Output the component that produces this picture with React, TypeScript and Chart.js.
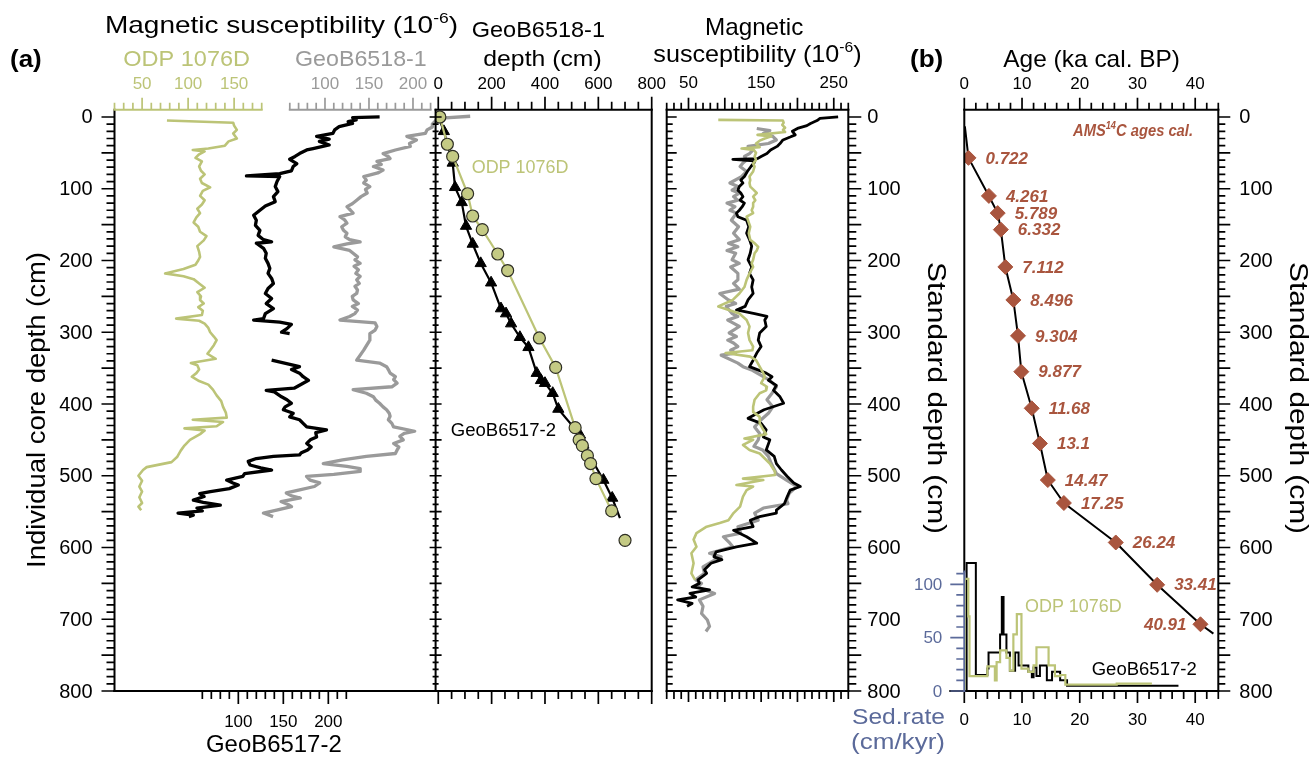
import { useEffect, useRef } from "react";
import { Chart, registerables } from "chart.js";

Chart.register(...registerables);

const W = 1311;
const H = 758;
const FONT = '"Liberation Sans", Arial, Helvetica, sans-serif';
const OLIVE = "#bcc477";
const OLIVE_FILL = "#c4ca84";
const GRAY = "#9a9a9a";
const BROWN = "#a9553e";
const SED = "#5b6a9a";
const BLACK = "#000000";

// ---------- tick labels ----------
const depthTickLabels = [0, 100, 200, 300, 400, 500, 600, 700, 800];
const odpTickLabels = [50, 100, 150];
const geo18TickLabels = [100, 150, 200];
const geo17TickLabels = [100, 150, 200];
const corrTickLabels = [0, 200, 400, 600, 800];
const stdMsTickLabels = [50, 150, 250];
const ageTickLabels = [0, 10, 20, 30, 40];
const sedTickLabels = [0, 50, 100];

// ---------- panel (a) left: MS vs individual core depth ----------
const odpDepth = [5, 8, 12, 18, 23, 30, 34, 40, 44, 46, 48, 52, 57, 62, 69, 75, 80, 86, 92, 98, 103, 110, 116, 122, 128, 134, 140, 147, 153, 160, 166, 172, 180, 188, 195, 200, 206, 212, 218, 222, 226, 232, 238, 244, 250, 255, 260, 265, 270, 276, 281, 284, 288, 294, 300, 306, 311, 318, 325, 330, 337, 343, 346, 352, 357, 362, 368, 373, 380, 388, 396, 404, 412, 419, 422, 425, 431, 434, 437, 442, 450, 458, 465, 474, 481, 488, 492, 500, 507, 515, 522, 530, 538, 543, 548];
const odpMS = [77, 149, 150, 153, 149, 153, 144, 140, 122, 105, 118, 112, 108, 115, 112, 114, 118, 113, 115, 124, 116, 113, 118, 115, 110, 113, 109, 106, 111, 113, 120, 117, 110, 112, 113, 111, 108, 95, 75, 95, 106, 112, 118, 110, 114, 113, 117, 111, 116, 115, 87, 112, 118, 122, 124, 128, 131, 128, 124, 121, 130, 103, 110, 112, 109, 104, 112, 122, 127, 131, 136, 138, 141, 142, 105, 138, 131, 96, 118, 113, 102, 96, 92, 88, 82, 55, 51, 46, 50, 47, 50, 47, 50, 46, 49];

const geo17Depth = [0, 1, 4, 6.5, 9, 13.5, 18, 23, 27, 31, 34, 39, 44, 46, 51, 55, 59, 65, 69, 75, 79, 82, 83, 90, 97, 104, 111, 118, 124, 130, 137, 144, 151, 158, 165, 171, 174, 176, 183, 190, 197, 204, 211, 218, 225, 232, 239, 246, 253, 260, 267, 274, 281, 283, 286, 289, 295, 300, 302, null, 339, 348, 352, 357, 362, 367, 371, 378, 381, 383, 390, 394, 399, 404, 408, 413, 418, 422, 427, 432, 436, 440, 446, 450, 455, 460, 464, 468, 471, 473, 476, 480, 485, 489, 492, 497, 501, 506, 510, 513, 518, 522, 525, 529, 534, 537, 541, 545, 549, 552, 555, 557];
const geo17MS = [257, 227, 231, 222, 227, 212, 207, 205, 187, 201, 190, 201, 183, 176, 168, 163, 157, 165, 161, 159, 146, 109, 146, 143, 141, 144, 139, 141, 130, 124, 117, 120, 119, 124, 122, 128, 137, 120, 128, 131, 130, 133, 135, 133, 137, 139, 133, 130, 137, 131, 139, 130, 128, 117, 146, 159, 154, 148, 157, null, 137, 168, 159, 168, 172, 178, 172, 162, 131, 140, 148, 154, 159, 152, 150, 161, 157, 168, 172, 176, 198, 186, 187, 180, 176, 181, 177, 170, 168, 139, 120, 111, 113, 125, 137, 107, 105, 87, 94, 100, 90, 69, 57, 62, 50, 61, 80, 54, 60, 33, 50, 45];

const geo18Depth = [-1, 2, 6, 10, 14, 18, 23, 27, 32, 37, 41, 46, 51, 55, 58, 62, 66, 69, 74, 78, 83, 88, 92, 97, 101, 106, 111, 116, 121, 125, 130, 134, 139, 143, 148, 153, 158, 162, 167, 171, 174, 177, 181, 186, 190, 195, 199, 204, 208, 213, 218, 222, 227, 232, 236, 241, 246, 250, 255, 260, 264, 269, 274, 278, 283, 287, 292, 297, 302, 311, 325, 339, 343, 348, 352, 357, 362, 366, 371, 376, 380, 385, 390, 395, 399, 404, 408, 413, 417, 422, 427, 432, 438, 441, 445, 450, 455, 460, 464, 469, 473, 478, 483, 487, 490, 494, 498, 501, 506, 510, 515, 520, 524, 528, 531, 536, 540, 543, 548, 552, 557];
const geo18MS = [265, 228, 225, 222, 222, 216, 214, 193, 204, 196, 197, 180, 166, 172, 174, 159, 164, 155, 166, 160, 144, 147, 144, 151, 146, 148, 141, 136, 131, 125, 129, 132, 117, 122, 125, 119, 121, 125, 123, 128, 140, 125, 110, 128, 132, 137, 134, 140, 133, 138, 135, 140, 136, 139, 134, 137, 136, 131, 132, 138, 131, 137, 134, 128, 117, 157, 159, 157, 151, 151, 144, 136, 162, 170, 172, 174, 180, 178, 182, 176, 132, 147, 155, 158, 162, 166, 170, 173, 174, 172, 176, 178, 202, 190, 185, 189, 178, 184, 182, 180, 147, 120, 98, 125, 140, 140, 110, 79, 83, 94, 88, 70, 56, 62, 72, 50, 58, 62, 45, 30, 41];

// ---------- panel (a) middle: depth correlation ----------
const odpTieX = [6, 34, 54, 110, 129, 165, 223, 260, 379, 440, 513, 528, 540, 559, 571, 591, 650, 700];
const odpTieY = [0, 38, 55, 107, 138, 157, 191, 214, 308, 349, 433, 450, 458, 472, 483, 504, 549, 590];
const odpLineX = [6, 34, 54, 110, 129, 165, 223, 260, 379, 440, 513, 528, 540, 559, 571, 591, 650];
const odpLineY = [0, 38, 55, 107, 138, 157, 191, 214, 308, 349, 433, 450, 458, 472, 483, 504, 549];
const geo17TieX = [21, 54, 63, 88, 104, 129, 159, 198, 235, 254, 273, 306, 338, 369, 385, 400, 429, 450, 531, 544, 619, 652];
const geo17TieY = [20, 64, 98, 119, 152, 177, 204, 231, 267, 274, 288, 307, 321, 357, 367, 371, 385, 407, 443, 457, 506, 531];
const geo17LineX = [6, 21, 54, 63, 88, 104, 129, 159, 198, 235, 254, 273, 306, 338, 369, 385, 400, 429, 450, 531, 544, 619, 652, 681];
const geo17LineY = [5, 20, 64, 98, 119, 152, 177, 204, 231, 267, 274, 288, 307, 321, 357, 367, 371, 385, 407, 443, 457, 506, 531, 559];

// ---------- panel (a) right: MS vs standard depth ----------
const stdGeo17Depth = [0, 2, 5, 9, 12, 16, 20, 25, 28, 32, 37, 41, 46, 51, 55, 58, 59, 61, 63, 69, 76, 83, 88, 92, 97, 102, 106, 111, 116, 120, 125, 130, 134, 139, 144, 153, 162, 171, 180, 190, 199, 209, 218, 227, 237, 246, 255, 264, 269, 274, 278, 283, 292, 301, 311, 320, 329, 339, 348, 357, 362, 367, 374, 381, 390, 399, 408, 420, 427, 436, 446, 450, 464, 473, 483, 492, 501, 510, 515, 520, 529, 539, 548, 552, 557, 562, 571, 576, 585, 594, 599, 606, 613, 617, 622, 631, 636, 645, 650, 655, 659, 664, 669, 673, 678, 682];
const stdGeo17MS = [256, 231, 227, 218, 213, 200, 193, 197, 190, 180, 176, 172, 163, 158, 150, 145, 111, 140, 141, 136, 131, 127, 122, 125, 120, 118, 122, 125, 121, 127, 124, 120, 116, 118, 130, 133, 130, 134, 137, 135, 132, 137, 134, 139, 137, 139, 132, 128, 116, 141, 158, 155, 157, 148, 146, 150, 144, 139, 134, 157, 165, 160, 171, 167, 176, 181, 154, 132, 150, 157, 153, 162, 157, 168, 171, 178, 186, 195, 204, 190, 186, 182, 171, 171, 148, 135, 139, 112, 130, 144, 116, 88, 85, 96, 81, 72, 75, 63, 65, 55, 79, 52, 60, 35, 55, 48];
const stdGeo18Depth = [16, 19, 23, 27, 32, 37, 41, 46, 51, 55, 60, 64, 69, 76, 83, 92, 97, 102, 106, 111, 116, 120, 125, 130, 134, 144, 153, 162, 171, 176, 181, 186, 190, 199, 204, 209, 218, 227, 232, 240, 246, 255, 260, 264, 274, 278, 283, 288, 292, 301, 306, 311, 315, 320, 325, 329, 332, 343, 348, 353, 362, 367, 376, 385, 394, 404, 413, 422, 432, 441, 450, 459, 464, 473, 483, 497, 506, 515, 524, 534, 539, 545, 552, 562, 571, 580, 585, 594, 599, 608, 613, 617, 627, 636, 645, 650, 655, 664, 673, 682, 692, 701, 710, 717];
const stdGeo18MS = [144, 162, 153, 166, 171, 160, 132, 139, 134, 127, 130, 125, 121, 130, 123, 107, 118, 110, 120, 112, 118, 103, 114, 107, 116, 109, 119, 112, 120, 105, 118, 103, 115, 110, 120, 108, 118, 118, 112, 120, 93, 105, 115, 102, 110, 118, 104, 113, 120, 106, 116, 104, 112, 118, 108, 115, 95, 118, 125, 138, 153, 162, 171, 165, 158, 166, 160, 150, 141, 148, 146, 140, 152, 160, 164, 171, 185, 199, 189, 185, 187, 153, 141, 146, 118, 122, 98, 107, 111, 79, 95, 87, 70, 72, 60, 68, 62, 86, 65, 70, 68, 76, 79, 74];
const stdOdpDepth = [4, 5, 8, 11, 15, 18, 21, 25, 27, 30, 33, 37, 42, 44, 46, 50, 55, 60, 65, 69, 76, 83, 88, 92, 97, 101, 106, 111, 116, 120, 125, 130, 134, 139, 144, 153, 162, 171, 176, 181, 186, 190, 199, 204, 209, 218, 227, 237, 246, 255, 264, 274, 283, 292, 301, 311, 320, 325, 329, 334, 339, 348, 357, 362, 371, 376, 381, 385, 394, 404, 411, 418, 427, 436, 442, 448, 450, 457, 464, 469, 483, 494, 499, 504, 506, 513, 515, 520, 529, 543, 552, 562, 566, 571, 580, 589, 599, 608, 622, 636, 645];
const stdOdpMS = [91, 180, 181, 179, 183, 180, 183, 145, 164, 155, 148, 143, 148, 123, 140, 143, 141, 143, 139, 141, 139, 134, 135, 134, 135, 139, 144, 139, 142, 139, 139, 137, 139, 130, 132, 135, 133, 135, 141, 146, 144, 141, 139, 137, 139, 134, 130, 127, 120, 111, 91, 120, 130, 134, 132, 134, 139, 138, 101, 135, 143, 148, 153, 155, 150, 158, 157, 148, 141, 139, 139, 148, 148, 153, 157, 127, 139, 125, 134, 148, 162, 169, 169, 125, 153, 116, 139, 130, 125, 121, 112, 105, 93, 75, 61, 57, 61, 54, 57, 54, 59];

// ---------- panel (b): age model and sedimentation rates ----------
const amsAge = [0.722, 4.261, 5.789, 6.332, 7.112, 8.496, 9.304, 9.877, 11.68, 13.1, 14.47, 17.25, 26.24, 33.41, 40.91];
const amsDepth = [57, 110, 134, 157, 209, 255, 305, 355, 406, 455, 506, 538, 593, 652, 707];
const ageModelAge = [0.1, 0.722, 4.261, 5.789, 6.332, 7.112, 8.496, 9.304, 9.877, 11.68, 13.1, 14.47, 17.25, 26.24, 33.41, 40.91, 43.15];
const ageModelDepth = [13, 57, 110, 134, 157, 209, 255, 305, 355, 406, 455, 506, 538, 593, 652, 707, 720];
const sedGeo17Age = [0.35, 0.4, 2.0, 4.0, 4.2, 6.2, 6.5, 6.8, 7.3, 7.9, 8.8, 9.4, 11.1, 11.7, 12.0, 12.5, 13.1, 14.3, 15.2, 16.6, 17.8, 37.1];
const sedGeo17Rate = [0, 120, 15, 21, 36, 53, 88, 53, 36, 19, 36, 24, 18, 13, 22, 14, 24, 10, 18, 10, 5, 5];
const sedOdpAge = [0.0, 0.1, 0.7, 0.9, 4.0, 5.3, 5.6, 6.2, 7.3, 7.9, 8.5, 9.1, 9.9, 11.1, 12.0, 12.5, 14.6, 15.7, 16.6, 17.5, 26.4, 32.5];
const sedOdpRate = [0, 105, 70, 14, 23, 10, 27, 38, 31, 19, 53, 72, 21, 18, 24, 41, 24, 14, 15, 6, 7, 7];

// ---------- helpers ----------
const pts = (xs: (number | null)[], ys: (number | null)[]) =>
  xs.map((x, i) => ({ x: x == null ? NaN : x, y: ys[i] == null ? NaN : (ys[i] as number) }));

type Seg = { t: string; sup?: boolean };
type TextOpts = {
  size: number; color?: string; bold?: boolean; italic?: boolean;
  align?: "left" | "center" | "right"; baseline?: CanvasTextBaseline; width?: number; rotate?: number;
};

function drawText(ctx: CanvasRenderingContext2D, content: string | Seg[], x: number, y: number, o: TextOpts) {
  const segs: Seg[] = typeof content === "string" ? [{ t: content }] : content;
  ctx.save();
  const fontFor = (sup?: boolean) =>
    `${o.italic ? "italic " : ""}${o.bold ? "bold " : ""}${sup ? Math.round(o.size * 0.62) : o.size}px ${FONT}`;
  const widths = segs.map((s) => { ctx.font = fontFor(s.sup); return ctx.measureText(s.t).width; });
  const total = widths.reduce((a, b) => a + b, 0);
  const sx = o.width ? o.width / total : 1;
  ctx.translate(x, y);
  if (o.rotate) ctx.rotate(o.rotate);
  ctx.scale(sx, 1);
  let cx = o.align === "center" ? -total / 2 : o.align === "right" ? -total : 0;
  ctx.fillStyle = o.color || BLACK;
  ctx.textAlign = "left";
  ctx.textBaseline = o.baseline || "alphabetic";
  segs.forEach((s, i) => {
    ctx.font = fontFor(s.sup);
    ctx.fillText(s.t, cx, s.sup ? -o.size * 0.42 : 0);
    cx += widths[i];
  });
  ctx.restore();
}

type AxisSpec = {
  id: string; vert: boolean; at: number; from: number; to: number; step: number; major: number;
  minLen: number; majLen: number; dir: number; color: string; linePx?: [number, number];
  labels?: number[]; labelAt?: number; labelSize?: number; labelAlign?: "left" | "center" | "right"; labelColor?: string;
  lineWidth?: number; tickWidth?: number;
};

function drawAxis(chart: any, a: AxisSpec) {
  const ctx: CanvasRenderingContext2D = chart.ctx;
  const s = chart.scales[a.id];
  const px = (v: number) => s.getPixelForValue(v);
  ctx.save();
  ctx.strokeStyle = a.color;
  const l0 = a.linePx ? a.linePx[0] : px(a.from);
  const l1 = a.linePx ? a.linePx[1] : px(a.to);
  ctx.lineWidth = a.lineWidth ?? 2;
  ctx.lineCap = "square";
  ctx.beginPath();
  if (a.vert) { ctx.moveTo(a.at, l0); ctx.lineTo(a.at, l1); } else { ctx.moveTo(l0, a.at); ctx.lineTo(l1, a.at); }
  ctx.stroke();
  ctx.lineWidth = a.tickWidth ?? 1.7;
  ctx.lineCap = "butt";
  ctx.beginPath();
  const n = Math.round((a.to - a.from) / a.step);
  for (let i = 0; i <= n; i++) {
    const v = a.from + i * a.step;
    const r = v / a.major;
    const len = Math.abs(r - Math.round(r)) < 1e-6 ? a.majLen : a.minLen;
    const p = px(v);
    const q0 = a.dir === 0 ? a.at - len / 2 : a.at;
    const q1 = a.dir === 0 ? a.at + len / 2 : a.at + a.dir * len;
    if (a.vert) { ctx.moveTo(q0, p); ctx.lineTo(q1, p); } else { ctx.moveTo(p, q0); ctx.lineTo(p, q1); }
  }
  ctx.stroke();
  if (a.labels) {
    for (const v of a.labels) {
      const p = px(v);
      if (a.vert) {
        drawText(ctx, String(v), a.labelAt as number, p + 1, { size: a.labelSize || 18, color: a.labelColor || a.color, align: a.labelAlign || "right", baseline: "middle" });
      } else {
        drawText(ctx, String(v), p, a.labelAt as number, { size: a.labelSize || 17, color: a.labelColor || a.color, align: "center" });
      }
    }
  }
  ctx.restore();
}

function hline(ctx: CanvasRenderingContext2D, x0: number, x1: number, y: number, w = 2, c = BLACK) {
  ctx.save(); ctx.strokeStyle = c; ctx.lineWidth = w; ctx.lineCap = "square";
  ctx.beginPath(); ctx.moveTo(x0, y); ctx.lineTo(x1, y); ctx.stroke(); ctx.restore();
}
function vline(ctx: CanvasRenderingContext2D, x: number, y0: number, y1: number, w = 2, c = BLACK) {
  ctx.save(); ctx.strokeStyle = c; ctx.lineWidth = w; ctx.lineCap = "square";
  ctx.beginPath(); ctx.moveTo(x, y0); ctx.lineTo(x, y1); ctx.stroke(); ctx.restore();
}

const MS_SUP: Seg[] = [{ t: "Magnetic susceptibility (10" }, { t: "-6", sup: true }, { t: ")" }];

function baseConfig(padding: any, scales: any, datasets: any[], decor: (c: any) => void) {
  const sc: any = {};
  Object.keys(scales).forEach((k) => { sc[k] = { type: "linear", display: false, ...scales[k] }; });
  return {
    type: "scatter" as const,
    data: { datasets },
    options: {
      responsive: false,
      animation: false,
      devicePixelRatio: 1,
      events: [],
      layout: { padding, autoPadding: false },
      plugins: { legend: { display: false }, tooltip: { enabled: false } },
      scales: sc,
    },
    plugins: [{ id: "decor", afterDraw: (c: any) => decor(c) }],
  };
}

const lineDs = (data: any, color: string, width: number, extra: any = {}) => ({
  data, showLine: true, borderColor: color, backgroundColor: color, borderWidth: width,
  pointRadius: 0, borderJoinStyle: "round", tension: 0, ...extra,
});

const Y_DEPTH = { min: -10, max: 800, reverse: true };
const PAD_TOP = 109.8;
const PAD_BOTTOM = 67;

// ---------- panel configs ----------
function panel1() {
  return baseConfig(
    { left: 114.5, right: W - 435.6, top: PAD_TOP, bottom: PAD_BOTTOM },
    { y: Y_DEPTH, xo: { min: 20, max: 369.0 }, xg: { min: -139.2, max: 225.7 }, xb: { min: -37.6, max: 319.2 } },
    [
      lineDs(pts(odpMS, odpDepth), OLIVE, 2.6, { xAxisID: "xo", yAxisID: "y" }),
      lineDs(pts(geo17MS, geo17Depth), BLACK, 3.3, { xAxisID: "xb", yAxisID: "y" }),
      lineDs(pts(geo18MS, geo18Depth), GRAY, 3.3, { xAxisID: "xg", yAxisID: "y", clip: false }),
    ],
    (c) => {
      const ctx = c.ctx; const ca = c.chartArea;
      drawAxis(c, { id: "y", vert: true, at: ca.left, from: 0, to: 800, step: 10, major: 50, minLen: 8, majLen: 13, dir: -1, color: BLACK, linePx: [ca.top, ca.bottom], labels: depthTickLabels, labelAt: ca.left - 22, labelSize: 20, labelAlign: "right" });
      hline(ctx, ca.left, ca.right, ca.bottom);
      drawAxis(c, { id: "xb", vert: false, at: ca.bottom, from: 60, to: 220, step: 10, major: 50, minLen: 8, majLen: 13, dir: 1, color: BLACK, linePx: [ca.left, ca.right], labels: geo17TickLabels, labelAt: 727, labelSize: 17 });
      drawAxis(c, { id: "xo", vert: false, at: ca.top, from: 20, to: 180, step: 10, major: 50, minLen: 7, majLen: 12, dir: -1, color: OLIVE, labels: odpTickLabels, labelAt: 89, labelSize: 17 });
      drawAxis(c, { id: "xg", vert: false, at: ca.top, from: 60, to: 220, step: 10, major: 50, minLen: 7, majLen: 12, dir: -1, color: GRAY, labels: geo18TickLabels, labelAt: 89, labelSize: 17 });
      drawText(ctx, MS_SUP, 105, 33, { size: 24, width: 353 });
      drawText(ctx, "ODP 1076D", 123.3, 66, { size: 22, color: OLIVE, width: 126.7 });
      drawText(ctx, "GeoB6518-1", 295, 66, { size: 22, color: GRAY, width: 131.7 });
      drawText(ctx, "(a)", 10, 67, { size: 24, bold: true, width: 31.7 });
      drawText(ctx, "GeoB6517-2", 206, 751.7, { size: 24, width: 135.7 });
      drawText(ctx, "Individual core depth (cm)", 38, 410, { size: 26, rotate: -Math.PI / 2, align: "center", baseline: "middle", width: 316 });
    }
  );
}

function panel2() {
  return baseConfig(
    { left: 435.6, right: W - 651.7, top: PAD_TOP, bottom: PAD_BOTTOM },
    { y: Y_DEPTH, x: { min: -10, max: 800 } },
    [
      { data: pts(odpTieX, odpTieY), pointRadius: 6, pointStyle: "circle", backgroundColor: OLIVE_FILL, borderColor: "#2e2e24", borderWidth: 1.2, showLine: false },
      lineDs(pts(odpLineX, odpLineY), OLIVE, 2.2),
      { data: pts(geo17TieX, geo17TieY), pointRadius: 6.5, pointStyle: "triangle", backgroundColor: BLACK, borderColor: BLACK, borderWidth: 1, showLine: false },
      lineDs(pts(geo17LineX, geo17LineY), BLACK, 2.2),
    ],
    (c) => {
      const ctx = c.ctx; const ca = c.chartArea;
      drawAxis(c, { id: "y", vert: true, at: ca.left, from: 0, to: 800, step: 10, major: 50, minLen: 6, majLen: 12, dir: 0, color: BLACK, linePx: [ca.top, ca.bottom] });
      drawAxis(c, { id: "x", vert: false, at: ca.top, from: 0, to: 800, step: 50, major: 200, minLen: 8, majLen: 13, dir: -1, color: BLACK, linePx: [ca.left, ca.right], labels: corrTickLabels, labelAt: 89, labelSize: 17 });
      drawAxis(c, { id: "x", vert: false, at: ca.bottom, from: 0, to: 800, step: 50, major: 200, minLen: 8, majLen: 13, dir: 1, color: BLACK, linePx: [ca.left, ca.right] });
      vline(ctx, ca.right, ca.top, ca.bottom);
      drawText(ctx, "GeoB6518-1", 471.7, 37.3, { size: 22, width: 133.3 });
      drawText(ctx, "depth (cm)", 483.3, 66, { size: 22, width: 118.4 });
      drawText(ctx, "ODP 1076D", 471.7, 172.7, { size: 18, color: OLIVE, width: 96.7 });
      drawText(ctx, "GeoB6517-2", 450.7, 436, { size: 18, width: 105.3 });
    }
  );
}

function panel3() {
  return baseConfig(
    { left: 666.7, right: W - 848.3, top: PAD_TOP, bottom: PAD_BOTTOM },
    { y: Y_DEPTH, x: { min: 20, max: 270 } },
    [
      lineDs(pts(stdOdpMS, stdOdpDepth), OLIVE, 2.6),
      lineDs(pts(stdGeo17MS, stdGeo17Depth), BLACK, 2.8),
      lineDs(pts(stdGeo18MS, stdGeo18Depth), GRAY, 3.2),
    ],
    (c) => {
      const ctx = c.ctx; const ca = c.chartArea;
      drawAxis(c, { id: "x", vert: false, at: ca.top, from: 20, to: 270, step: 10, major: 50, minLen: 7, majLen: 12, dir: -1, color: BLACK, linePx: [ca.left, ca.right], labels: stdMsTickLabels, labelAt: 87.5, labelSize: 17 });
      drawAxis(c, { id: "x", vert: false, at: ca.bottom, from: 20, to: 270, step: 10, major: 50, minLen: 8, majLen: 11, dir: 1, color: BLACK, linePx: [ca.left, ca.right] });
      drawAxis(c, { id: "y", vert: true, at: ca.left, from: 0, to: 800, step: 10, major: 50, minLen: 6, majLen: 10, dir: 1, color: BLACK, linePx: [ca.top, ca.bottom] });
      drawAxis(c, { id: "y", vert: true, at: ca.right, from: 0, to: 800, step: 10, major: 50, minLen: 8, majLen: 13, dir: 1, color: BLACK, linePx: [ca.top, ca.bottom], labels: depthTickLabels, labelAt: ca.right + 19, labelSize: 20, labelAlign: "left" });
      drawText(ctx, "Magnetic", 705, 35, { size: 24, width: 98.3 });
      drawText(ctx, [{ t: "susceptibility (10" }, { t: "-6", sup: true }, { t: ")" }], 653.3, 61.7, { size: 24, width: 208.4 });
      drawText(ctx, "Standard depth (cm)", 935, 398, { size: 26, rotate: Math.PI / 2, align: "center", baseline: "middle", width: 272 });
    }
  );
}

function panelB() {
  return baseConfig(
    { left: 964.3, right: W - 1218.3, top: PAD_TOP, bottom: PAD_BOTTOM },
    { y: Y_DEPTH, x: { min: 0, max: 44 }, ys: { min: 0, max: 544.7 } },
    [
      { data: pts(amsAge, amsDepth), pointRadius: 7.5, pointStyle: "rectRot", backgroundColor: BROWN, borderColor: BROWN, borderWidth: 1, showLine: false, xAxisID: "x", yAxisID: "y" },
      lineDs(pts(ageModelAge, ageModelDepth), BLACK, 2, { xAxisID: "x", yAxisID: "y" }),
      lineDs(pts(sedOdpAge, sedOdpRate), OLIVE, 2.2, { xAxisID: "x", yAxisID: "ys", stepped: "before", borderJoinStyle: "miter" }),
      lineDs(pts(sedGeo17Age, sedGeo17Rate), BLACK, 2, { xAxisID: "x", yAxisID: "ys", stepped: "before", borderJoinStyle: "miter" }),
    ],
    (c) => {
      const ctx = c.ctx; const ca = c.chartArea;
      const ys = c.scales.ys; const xs = c.scales.x; const yd = c.scales.y;
      drawAxis(c, { id: "x", vert: false, at: ca.top, from: 0, to: 44, step: 2, major: 10, minLen: 7, majLen: 12, dir: -1, color: BLACK, linePx: [ca.left, ca.right], labels: ageTickLabels, labelAt: 89, labelSize: 17 });
      drawAxis(c, { id: "x", vert: false, at: ca.bottom, from: 0, to: 44, step: 2, major: 10, minLen: 8, majLen: 12, dir: 1, color: BLACK, linePx: [ca.left - 14, ca.right], labels: ageTickLabels, labelAt: 725, labelSize: 17 });
      drawAxis(c, { id: "y", vert: true, at: ca.right, from: 0, to: 800, step: 10, major: 50, minLen: 7, majLen: 12, dir: 1, color: BLACK, linePx: [ca.top, ca.bottom], labels: depthTickLabels, labelAt: ca.right + 21, labelSize: 20, labelAlign: "left" });
      vline(ctx, ca.left, ca.top, ys.getPixelForValue(112));
      drawAxis(c, { id: "ys", vert: true, at: ca.left, from: 0, to: 110, step: 10, major: 50, minLen: 8, majLen: 14, dir: -1, color: SED, linePx: [ys.getPixelForValue(0), ys.getPixelForValue(112)], labels: sedTickLabels, labelAt: ca.left - 22, labelSize: 17, labelAlign: "right" });
      amsAge.forEach((a, i) => {
        const px = xs.getPixelForValue(a); const py = yd.getPixelForValue(amsDepth[i]);
        const last = i === amsAge.length - 1;
        drawText(ctx, String(a), last ? px - 14 : px + 17, py + 1, { size: 17, bold: true, italic: true, color: BROWN, align: last ? "right" : "left", baseline: "middle" });
      });
      drawText(ctx, [{ t: "AMS" }, { t: "14", sup: true }, { t: "C ages cal." }], 1073, 136, { size: 16, bold: true, italic: true, color: BROWN, width: 120 });
      drawText(ctx, "(b)", 910, 67, { size: 24, bold: true, width: 33.3 });
      drawText(ctx, "Age (ka cal. BP)", 1003.3, 66.7, { size: 24, width: 176.7 });
      drawText(ctx, "ODP 1076D", 1025, 611.7, { size: 18, color: OLIVE, width: 96.7 });
      drawText(ctx, "GeoB6517-2", 1091.7, 675, { size: 18, width: 105 });
      drawText(ctx, "Sed.rate", 945, 724, { size: 22, color: SED, align: "right", width: 93 });
      drawText(ctx, "(cm/kyr)", 945, 749, { size: 22, color: SED, align: "right", width: 94 });
      drawText(ctx, "Standard depth (cm)", 1297, 398, { size: 26, rotate: Math.PI / 2, align: "center", baseline: "middle", width: 272 });
    }
  );
}

export default function App() {
  const r1 = useRef<HTMLCanvasElement>(null);
  const r2 = useRef<HTMLCanvasElement>(null);
  const r3 = useRef<HTMLCanvasElement>(null);
  const r4 = useRef<HTMLCanvasElement>(null);
  useEffect(() => {
    const charts = [
      new Chart(r1.current as HTMLCanvasElement, panel1() as any),
      new Chart(r2.current as HTMLCanvasElement, panel2() as any),
      new Chart(r3.current as HTMLCanvasElement, panel3() as any),
      new Chart(r4.current as HTMLCanvasElement, panelB() as any),
    ];
    return () => charts.forEach((c) => c.destroy());
  }, []);
  const st: any = { position: "absolute", left: 0, top: 0, width: W, height: H };
  return (
    <div style={{ position: "absolute", left: 0, top: 0, width: W, height: H, background: "#ffffff", overflow: "hidden" }}>
      <canvas ref={r1} width={W} height={H} style={st} />
      <canvas ref={r2} width={W} height={H} style={st} />
      <canvas ref={r3} width={W} height={H} style={st} />
      <canvas ref={r4} width={W} height={H} style={st} />
    </div>
  );
}
